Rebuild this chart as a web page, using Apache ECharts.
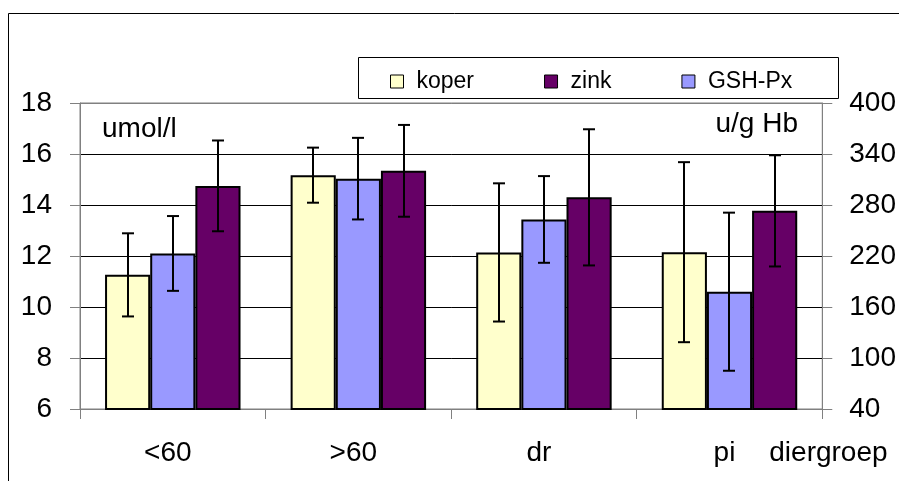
<!DOCTYPE html>
<html>
<head>
<meta charset="utf-8">
<script src="https://cdn.jsdelivr.net/npm/echarts@6/dist/echarts.min.js"></script>
<style>html,body{margin:0;padding:0;background:#fff;}#c{width:899px;height:481px;}</style>
</head>
<body>
<div id="c"></div>
<script>
const categories = ['<60', '>60', 'dr', 'pi'];
const koperMean = [11.26, 15.17, 12.14, 12.15];
const koperSD = [1.63, 1.08, 2.71, 3.53];
const zinkMean = [14.75, 15.34, 14.30, 13.77];
const zinkSD = [1.78, 1.80, 2.67, 2.18];
const gshMean = [223, 311, 263, 178];
const gshSD = [44, 48, 51, 93];
const leftAxis = { min: 6, max: 18, interval: 2 };
const rightAxis = { min: 40, max: 400 };

const FONT = 'Liberation Sans, Arial, sans-serif';
const CAT_GAP = 0.27;

function errRender(slot) {
  return function (params, api) {
    const idx = api.value(0), m = api.value(1), sd = api.value(2);
    const catW = api.size([1, 0])[0];
    const bw = catW * (1 - CAT_GAP) / 3;
    const x = Math.round(api.coord([idx, m])[0] + slot * bw);
    const top = api.coord([idx, m + sd])[1];
    const bot = api.coord([idx, m - sd])[1];
    const half = 6;
    const st = { stroke: '#000', lineWidth: 2 };
    return {
      type: 'group',
      children: [
        { type: 'line', shape: { x1: x, y1: top, x2: x, y2: bot }, style: st },
        { type: 'line', shape: { x1: x - half, y1: top, x2: x + half, y2: top }, style: st },
        { type: 'line', shape: { x1: x - half, y1: bot, x2: x + half, y2: bot }, style: st }
      ]
    };
  };
}
function errData(mean, sd) { return mean.map((v, i) => [i, v, sd[i]]); }

const chart = echarts.init(document.getElementById('c'), null, { renderer: 'canvas' });
const barStyle = (c) => ({ color: c, borderColor: '#000', borderWidth: 2 });
chart.setOption({
  animation: false,
  backgroundColor: '#fff',
  textStyle: { fontFamily: FONT },
  grid: { left: 80, right: 76, top: 103, bottom: 72, show: true, borderColor: '#808080', borderWidth: 1, backgroundColor: 'transparent' },
  legend: {
    data: ['koper', 'zink', 'GSH-Px'],
    left: 390, top: 70, padding: 0,
    itemWidth: 13, itemHeight: 13, itemGap: 70,
    icon: 'rect',
    itemStyle: { borderColor: '#000', borderWidth: 1 },
    textStyle: { fontFamily: FONT, fontSize: 23, color: '#000', padding: [0, 0, 0, 8] }
  },
  xAxis: {
    type: 'category', data: categories,
    axisLine: { lineStyle: { color: '#808080', width: 1 } },
    axisTick: { show: true, length: 10, lineStyle: { color: '#808080' } },
    axisLabel: { fontFamily: FONT, fontSize: 28, color: '#000', margin: 30, padding: [0, 10, 0, 0] },
    name: 'diergroep', nameLocation: 'end', nameGap: -53,
    nameTextStyle: { fontFamily: FONT, fontSize: 28, color: '#000', verticalAlign: 'top', padding: [30, 0, 0, 0] }
  },
  yAxis: [
    {
      type: 'value', min: leftAxis.min, max: leftAxis.max, interval: leftAxis.interval,
      axisLine: { show: true, lineStyle: { color: '#808080' } },
      axisTick: { show: true, length: 10, lineStyle: { color: '#808080' } },
      axisLabel: { fontFamily: FONT, fontSize: 28, color: '#000', margin: 28 },
      splitLine: { show: true, lineStyle: { color: ['#000', '#000', '#000', '#000', '#000', '#000', '#808080'], width: 1 } }
    },
    {
      type: 'value', min: rightAxis.min, max: rightAxis.max, alignTicks: true,
      axisLine: { show: true, lineStyle: { color: '#808080' } },
      axisTick: { show: true, length: 10, lineStyle: { color: '#808080' } },
      axisLabel: { fontFamily: FONT, fontSize: 28, color: '#000', margin: 27 },
      splitLine: { show: false }
    }
  ],
  graphic: [
    { type: 'rect', z: -10, shape: { x: 8.5, y: 13.5, width: 1000, height: 1000 }, style: { fill: 'none', stroke: '#000', lineWidth: 1 } },
    { type: 'rect', z: 1, shape: { x: 358.5, y: 57.5, width: 480, height: 41 }, style: { fill: '#fff', stroke: '#000', lineWidth: 1 } },
    { type: 'text', z: 5, x: 102, y: 143, style: { text: 'umol/l', font: '28px ' + FONT, fill: '#000', textAlign: 'left', textVerticalAlign: 'bottom', verticalAlign: 'bottom' } },
    { type: 'text', z: 5, x: 798, y: 138, style: { text: 'u/g Hb', font: '28px ' + FONT, fill: '#000', textAlign: 'right', textVerticalAlign: 'bottom', verticalAlign: 'bottom' } }
  ],
  series: [
    { name: 'koper', type: 'bar', yAxisIndex: 0, data: koperMean, barGap: '0%', barCategoryGap: (CAT_GAP * 100) + '%', itemStyle: barStyle('#FFFFCC') },
    { name: 'GSH-Px', type: 'bar', yAxisIndex: 1, data: gshMean, barGap: '0%', barCategoryGap: (CAT_GAP * 100) + '%', itemStyle: barStyle('#9999FF') },
    { name: 'zink', type: 'bar', yAxisIndex: 0, data: zinkMean, barGap: '0%', barCategoryGap: (CAT_GAP * 100) + '%', itemStyle: barStyle('#660066') },
    { name: 'koper-err', type: 'custom', yAxisIndex: 0, renderItem: errRender(-1), data: errData(koperMean, koperSD), encode: { x: 0, y: 1 }, z: 10, silent: true },
    { name: 'GSH-Px-err', type: 'custom', yAxisIndex: 1, renderItem: errRender(0), data: errData(gshMean, gshSD), encode: { x: 0, y: 1 }, z: 10, silent: true },
    { name: 'zink-err', type: 'custom', yAxisIndex: 0, renderItem: errRender(1), data: errData(zinkMean, zinkSD), encode: { x: 0, y: 1 }, z: 10, silent: true }
  ]
});
</script>
</body>
</html>
